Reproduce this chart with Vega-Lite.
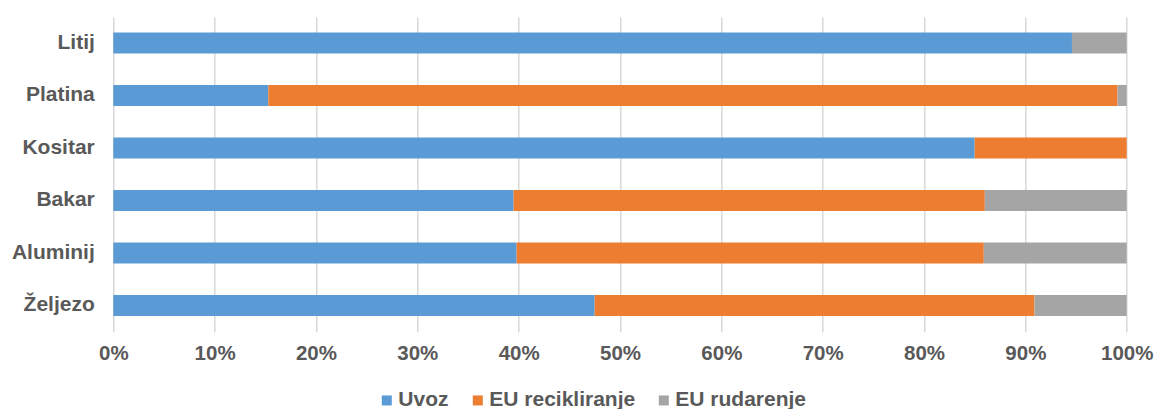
{
  "$schema": "https://vega.github.io/schema/vega-lite/v6.json",
  "autosize": {"type": "none"},
  "padding": {"left": 113.3, "top": 16.7, "right": 29.3, "bottom": 77.3},
  "width": 1013.4,
  "height": 315,
  "background": "white",
  "config": {
    "view": {"stroke": null},
    "font": "Liberation Sans"
  },
  "data": {
    "values": [
      {"metal": "Litij", "izvor": "Uvoz", "redoslijed": 1, "udio": 94.6},
      {"metal": "Litij", "izvor": "EU rudarenje", "redoslijed": 3, "udio": 5.4},
      {"metal": "Platina", "izvor": "Uvoz", "redoslijed": 1, "udio": 15.3},
      {"metal": "Platina", "izvor": "EU recikliranje", "redoslijed": 2, "udio": 83.8},
      {"metal": "Platina", "izvor": "EU rudarenje", "redoslijed": 3, "udio": 0.9},
      {"metal": "Kositar", "izvor": "Uvoz", "redoslijed": 1, "udio": 85.0},
      {"metal": "Kositar", "izvor": "EU recikliranje", "redoslijed": 2, "udio": 15.0},
      {"metal": "Bakar", "izvor": "Uvoz", "redoslijed": 1, "udio": 39.5},
      {"metal": "Bakar", "izvor": "EU recikliranje", "redoslijed": 2, "udio": 46.5},
      {"metal": "Bakar", "izvor": "EU rudarenje", "redoslijed": 3, "udio": 14.0},
      {"metal": "Aluminij", "izvor": "Uvoz", "redoslijed": 1, "udio": 39.8},
      {"metal": "Aluminij", "izvor": "EU recikliranje", "redoslijed": 2, "udio": 46.1},
      {"metal": "Aluminij", "izvor": "EU rudarenje", "redoslijed": 3, "udio": 14.1},
      {"metal": "Željezo", "izvor": "Uvoz", "redoslijed": 1, "udio": 47.5},
      {"metal": "Željezo", "izvor": "EU recikliranje", "redoslijed": 2, "udio": 43.4},
      {"metal": "Željezo", "izvor": "EU rudarenje", "redoslijed": 3, "udio": 9.1}
    ]
  },
  "mark": {"type": "bar"},
  "encoding": {
    "y": {
      "field": "metal",
      "type": "nominal",
      "sort": ["Litij", "Platina", "Kositar", "Bakar", "Aluminij", "Željezo"],
      "scale": {"paddingInner": 0.6, "paddingOuter": 0.3},
      "axis": {
        "title": null,
        "ticks": false,
        "domain": false,
        "labelPadding": 19,
        "labelFontSize": 21,
        "labelFontWeight": "bold",
        "labelColor": "#595959",
        "labelFont": "Liberation Sans"
      }
    },
    "x": {
      "field": "udio",
      "type": "quantitative",
      "stack": "normalize",
      "scale": {"domain": [0, 1], "nice": false},
      "axis": {
        "title": null,
        "format": ".0%",
        "values": [0, 0.1, 0.2, 0.3, 0.4, 0.5, 0.6, 0.7, 0.8, 0.9, 1],
        "ticks": false,
        "domain": false,
        "grid": true,
        "gridColor": "#d9d9d9",
        "gridWidth": 1.5,
        "labelPadding": 12,
        "labelFontSize": 20.5,
        "labelFontWeight": "bold",
        "labelColor": "#595959",
        "labelFont": "Liberation Sans",
        "labelFlush": false
      }
    },
    "order": {"field": "redoslijed", "type": "quantitative", "sort": "ascending"},
    "color": {
      "field": "izvor",
      "type": "nominal",
      "sort": ["Uvoz", "EU recikliranje", "EU rudarenje"],
      "scale": {
        "domain": ["Uvoz", "EU recikliranje", "EU rudarenje"],
        "range": ["#5B9BD5", "#ED7D31", "#A5A5A5"]
      },
      "legend": {
        "title": null,
        "orient": "none",
        "direction": "horizontal",
        "legendX": 263,
        "legendY": 373,
        "symbolType": "square",
        "symbolSize": 100,
        "symbolStrokeWidth": 0,
        "labelOffset": 1,
        "columnPadding": 18,
        "labelFontSize": 21,
        "labelFontWeight": "bold",
        "labelColor": "#595959",
        "labelFont": "Liberation Sans"
      }
    }
  }
}
